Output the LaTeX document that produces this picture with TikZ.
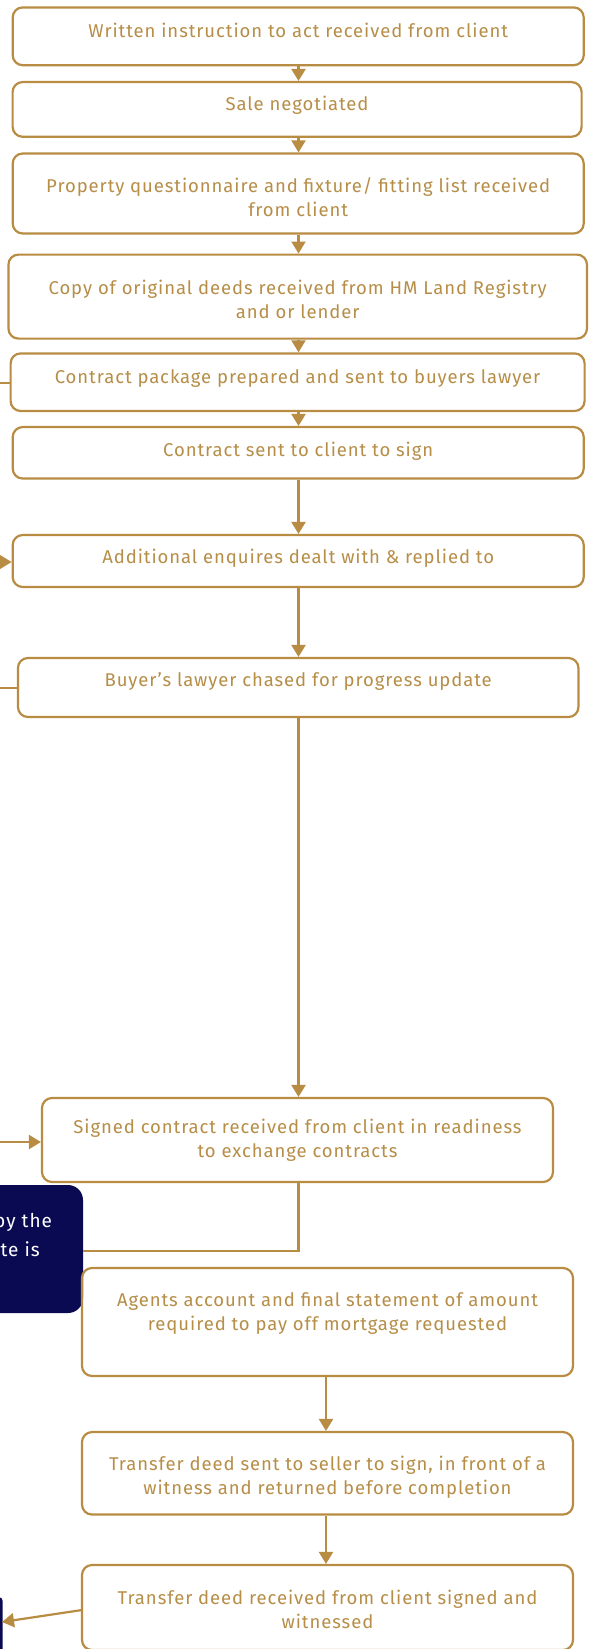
\documentclass[tikz,border=0pt]{standalone}
\usepackage{fontspec}
\setmainfont{Fira Sans}[LetterSpace=5]
\usetikzlibrary{arrows.meta}
\definecolor{gold}{RGB}{184,140,66}
\definecolor{goldtxt}{RGB}{182,142,72}
\definecolor{navy}{RGB}{10,10,82}
\tikzset{
  stepbox/.style={draw=gold, line width=2.2pt, rounded corners=10pt, inner sep=0pt},
  txt/.style={text=goldtxt, font=\fontsize{18.5}{24}\selectfont, align=center, inner sep=0pt},
  conn/.style={draw=gold, line width=2.2pt},
  arr/.style={conn, -{Triangle[width=14pt,length=12pt]}},
  notetxt/.style={text=white, font=\fontsize{19}{24}\selectfont, anchor=west, inner sep=0pt}
}
\begin{document}
\begin{tikzpicture}[x=1pt,y=-1pt]
\useasboundingbox (0,0) rectangle (590,1649);
\clip (0,0) rectangle (590,1649);
\fill[white] (0,0) rectangle (590,1649);

% navy callouts (cut off at the left edge)
\fill[navy, rounded corners=15pt] (-200,1185) rectangle (83,1313);
\node[notetxt] (n1a) at (-6,1222) {by the};
\node[notetxt] (n1b) at (0.5,1249) {te is};
\fill[navy, rounded corners=4pt] (-50,1597) rectangle (2.7,1700);

% boxes
\node[stepbox, minimum width=571pt, minimum height=57.8pt] (b1) at (298.2,36.3) {};
\node[txt] (t1) at (298.2,30.5) {Written instruction to act received from client};

\node[stepbox, minimum width=569pt, minimum height=54.7pt] (b2) at (297.1,109.4) {};
\node[txt] (t2) at (297.1,105) {Sale negotiated};

\node[stepbox, minimum width=571pt, minimum height=80pt] (b3) at (298.2,193.5) {};
\node[txt] (t3) at (298.2,197) {Property questionnaire and fixture/ fitting list received\\from client};

\node[stepbox, minimum width=578.5pt, minimum height=84pt] (b4) at (297.7,296.6) {};
\node[txt] (t4) at (297.7,299) {Copy of original deeds received from HM Land Registry\\and or lender};

\node[stepbox, minimum width=574pt, minimum height=57.6pt] (b5) at (297.6,382.2) {};
\node[txt] (t5) at (297.6,378.6) {Contract package prepared and sent to buyers lawyer};

\node[stepbox, minimum width=571pt, minimum height=51.5pt] (b6) at (298.2,452.8) {};
\node[txt] (t6) at (298.2,451) {Contract sent to client to sign};

\node[stepbox, minimum width=571pt, minimum height=52pt] (b7) at (298.2,561) {};
\node[txt] (t7) at (298.2,558.5) {Additional enquires dealt with \& replied to};

\node[stepbox, minimum width=560.5pt, minimum height=59pt] (b8) at (298.2,687.5) {};
\node[txt] (t8) at (298.2,681.5) {Buyer’s lawyer chased for progress update};

\node[stepbox, minimum width=511pt, minimum height=84pt] (b9) at (297.5,1140) {};
\node[txt] (t9) at (297.5,1140) {Signed contract received from client in readiness\\to exchange contracts};

\node[stepbox, minimum width=491pt, minimum height=108pt] (b10) at (327.5,1322) {};
\node[txt] (t10) at (327.5,1313.5) {Agents account and final statement of amount\\required to pay off mortgage requested};

\node[stepbox, minimum width=491pt, minimum height=82.5pt] (b11) at (327.5,1473.3) {};
\node[txt] (t11) at (327.5,1477.5) {Transfer deed sent to seller to sign, in front of a\\witness and returned before completion};

\node[stepbox, minimum width=491pt, minimum height=85pt] (b12) at (327.5,1607.5) {};
\node[txt] (t12) at (327.5,1609) {Transfer deed received from client signed and\\witnessed};

% connectors
\coordinate (c1) at (298.5,0);
\draw[arr] (b1.south -| c1) -- (b2.north -| c1);
\draw[arr] (b2.south -| c1) -- (b3.north -| c1);
\draw[arr] (b3.south -| c1) -- (b4.north -| c1);
\draw[arr] (b4.south -| c1) -- (b5.north -| c1);
\draw[arr] (b5.south -| c1) -- (b6.north -| c1);
\draw[arr] (b6.south -| c1) -- (b7.north -| c1);
\draw[arr] (b7.south -| c1) -- (b8.north -| c1);
\draw[arr] (b8.south -| c1) -- (b9.north -| c1);
\coordinate (elbow) at (298.5,1251);
\coordinate (navyR) at (83,1251);
\draw[conn] (b9.south -| c1) -- (elbow) -- (navyR);
\coordinate (c2) at (326,0);
\draw[arr] (b10.south -| c2) -- (b11.north -| c2);
\draw[arr] (b11.south -| c2) -- (b12.north -| c2);

% stubs from the left edge
\coordinate (l5) at (0,383);
\draw[conn] (l5) -- (l5 -| b5.west);
\coordinate (l7) at (0,562);
\draw[arr] (l7) -- (l7 -| b7.west);
\coordinate (l8) at (0,688);
\draw[conn] (l8) -- (l8 -| b8.west);
\coordinate (l9) at (0,1142);
\draw[arr] (l9) -- (l9 -| b9.west);
\coordinate (out12) at (82,1610);
\coordinate (end12) at (2,1622);
\draw[arr] (out12) -- (end12);
\end{tikzpicture}
\end{document}
